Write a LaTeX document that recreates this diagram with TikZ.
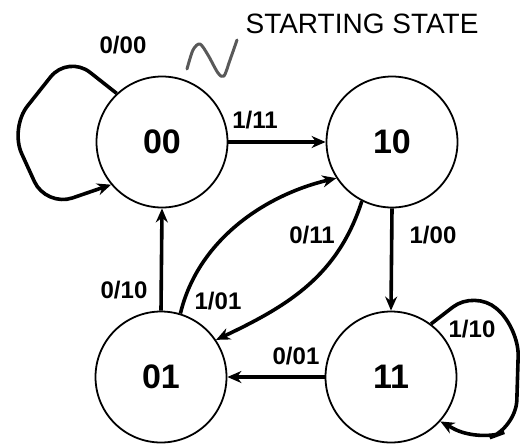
\documentclass[tikz,border=0pt]{standalone}
\usepackage{fontspec}
\setmainfont{Liberation Sans}
\usetikzlibrary{arrows.meta}
\begin{document}
\begin{tikzpicture}[x=1pt,y=-1pt,
  stnode/.style={circle,draw,line width=1.8pt,minimum size=131pt,inner sep=0pt,font=\bfseries\fontsize{34}{34}\selectfont},
  edge/.style={line width=3.6pt,-{Stealth[length=14pt,width=12pt]}},
  lbl/.style={inner sep=0pt,font=\bfseries\fontsize{24}{24}\selectfont}]
\useasboundingbox (0,0) rectangle (522,447);
\node[stnode] (s00) at (162,142) {00};
\node[stnode] (s10) at (392,142) {10};
\node[stnode] (s01) at (161,377) {01};
\node[stnode] (s11) at (391,377) {11};
% title and squiggle
\node[inner sep=0pt,font=\fontsize{28}{28}\selectfont] (title) at (362,24) {STARTING STATE};
\draw[gray!70!black,line width=3pt,line cap=round,line join=round] plot[smooth,tension=0.5] coordinates {(187,69) (193,50) (200,44) (208,55) (218,73) (224,76) (230,60) (237,40)};
% edges
\draw[edge] (s00.east) -- (s10.west);
\draw[edge] (s01.north) -- (s00.south);
\draw[edge] (s10.south) -- (s11.north);
\draw[edge] (s11.west) -- (s01.east);
\draw[edge] (s01.73) .. controls (198,240) and (265,195) .. (s10.213);
\draw[edge] (s10.243) .. controls (338,275) and (290,305) .. (s01.34);
\draw[edge,rounded corners=28pt] (s00.133) -- (68,55) -- (10,128) -- (46,207) -- (s00.220);
\draw[edge,rounded corners=28pt] (s11.53) -- (475,290) -- (519,328) -- (516,428) -- (478,442) -- (s11.-42);
% labels
\node[lbl] (l1) at (123,45) {0/00};
\node[lbl] (l2) at (255,120) {1/11};
\node[lbl] (l3) at (312,235) {0/11};
\node[lbl] (l4) at (433,235) {1/00};
\node[lbl] (l5) at (124,290) {0/10};
\node[lbl] (l6) at (218,301) {1/01};
\node[lbl] (l7) at (296,356) {0/01};
\node[lbl] (l8) at (472,329) {1/10};
\end{tikzpicture}
\end{document}
